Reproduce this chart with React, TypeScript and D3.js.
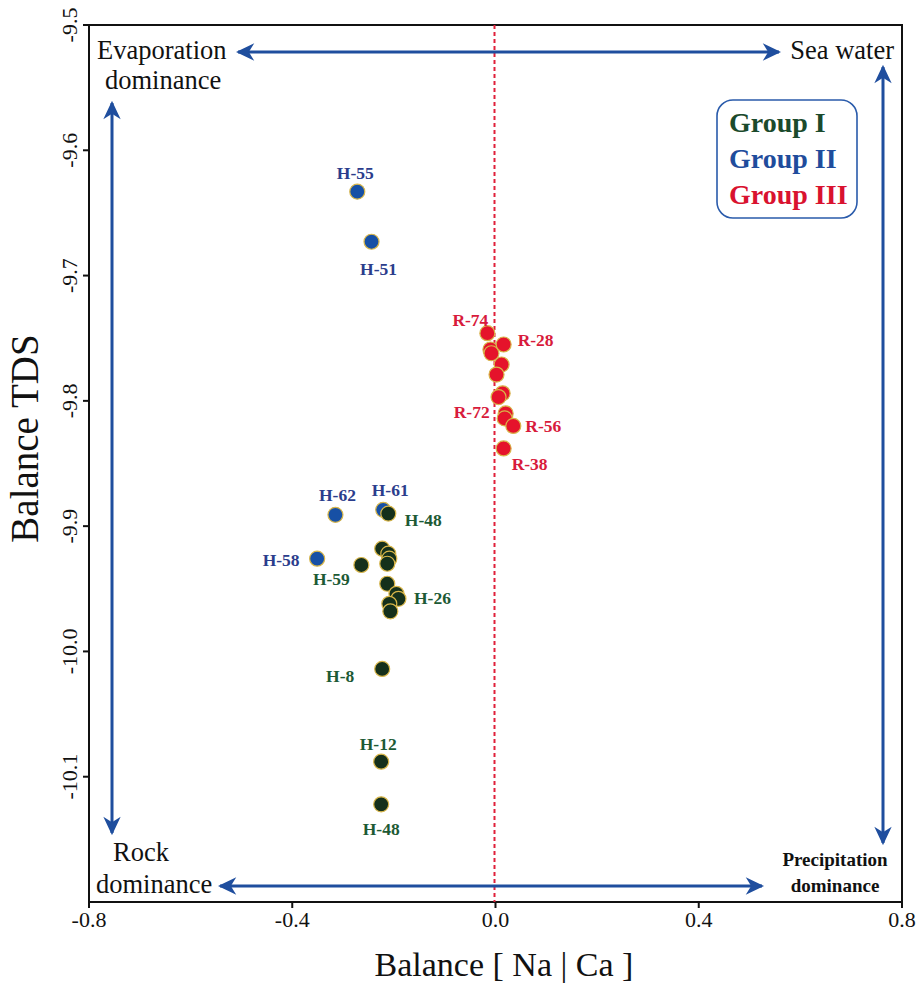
import React from "react";
import * as d3 from "d3";

// Group I (green) - Balance [Na | Ca] and Balance TDS
const groupIX = [-0.211, -0.264, -0.223, -0.211, -0.209, -0.213, -0.213, -0.195, -0.191, -0.209, -0.207, -0.223, -0.225, -0.225];
const groupIY = [-9.89, -9.931, -9.918, -9.922, -9.926, -9.93, -9.946, -9.954, -9.958, -9.962, -9.968, -10.014, -10.088, -10.122];
const groupILabels = ["H-48", "H-59", "", "", "", "", "", "", "H-26", "", "", "H-8", "H-12", "H-48"];

// Group II (blue)
const groupIIX = [-0.272, -0.244, -0.315, -0.221, -0.351];
const groupIIY = [-9.633, -9.673, -9.891, -9.887, -9.926];
const groupIILabels = ["H-55", "H-51", "H-62", "H-61", "H-58"];

// Group III (red)
const groupIIIX = [-0.016, -0.01, -0.008, 0.016, 0.012, 0.002, 0.014, 0.006, 0.02, 0.018, 0.035, 0.016];
const groupIIIY = [-9.746, -9.759, -9.762, -9.755, -9.771, -9.779, -9.794, -9.797, -9.81, -9.814, -9.82, -9.838];
const groupIIILabels = ["R-74", "", "", "R-28", "", "", "", "", "R-72", "", "R-56", "R-38"];

const xTicks = [-0.8, -0.4, 0.0, 0.4, 0.8];
const yTicks = [-9.5, -9.6, -9.7, -9.8, -9.9, -10.0, -10.1];
const legendNames = ["Group I", "Group II", "Group III"];

// label offsets (px) from its point, per label text
const labelOffset: Record<string, [number, number]> = {
  "I:H-48": [35, 6], "I:H-59": [-30, 14], "I:H-26": [34, -1], "I:H-8": [-42, 7],
  "I:H-12": [-3, -18], "I:H-48b": [0, 25],
  "II:H-55": [-2, -19], "II:H-51": [7, 27], "II:H-62": [2, -20], "II:H-61": [7, -20], "II:H-58": [-36, 1],
  "III:R-74": [-17, -13], "III:R-28": [32, -4], "III:R-72": [-34, -1], "III:R-56": [30, 0], "III:R-38": [26, 16],
};

const W = 921, H = 985;
const left = 89, right = 902, top = 25, bottom = 902;

const x = d3.scaleLinear().domain([-0.8, 0.8]).range([left, right]);
const y = d3.scaleLinear().domain([-10.2, -9.5]).range([bottom, top]);

const serif = "'Liberation Serif', 'Times New Roman', serif";
const arrowBlue = "#1f4e9e";

const groups = [
  { key: "II", xs: groupIIX, ys: groupIIY, labels: groupIILabels, fill: "#1750a5", text: "#2b3d8c" },
  { key: "I", xs: groupIX, ys: groupIY, labels: groupILabels, fill: "#15301b", text: "#1d5a35" },
  { key: "III", xs: groupIIIX, ys: groupIIIY, labels: groupIIILabels, fill: "#e5132b", text: "#d81b3c" },
];

const Arrow = ({ x1, y1, x2, y2 }: { x1: number; y1: number; x2: number; y2: number }) => (
  <line x1={x1} y1={y1} x2={x2} y2={y2} stroke={arrowBlue} strokeWidth={3}
    markerStart="url(#ahead)" markerEnd="url(#ahead)" />
);

export default function App() {
  const fmt = (v: number) => d3.format(".1f")(v).replace("\u2212", "-");
  return (
    <svg width={W} height={H} style={{ position: "absolute", left: 0, top: 0, background: "#fff" }}
      fontFamily={serif}>
      <defs>
        <marker id="ahead" viewBox="-16 -9 18 18" refX={0} refY={0} markerWidth={6.5} markerHeight={6.5}
          markerUnits="strokeWidth" orient="auto-start-reverse">
          <path d="M2,0 L-15,-8 L-10,0 L-15,8 Z" fill={arrowBlue} />
        </marker>
      </defs>

      {/* plot frame */}
      <rect x={left} y={top} width={right - left} height={bottom - top} fill="none" stroke="#111" strokeWidth={2} />

      {/* zero line */}
      <line x1={x(0) - 1} x2={x(0) - 1} y1={top} y2={bottom} stroke="#e0203a" strokeWidth={2} strokeDasharray="4,3" />

      {/* x axis */}
      {xTicks.map((t) => (
        <g key={t}>
          <line x1={x(t)} x2={x(t)} y1={bottom} y2={bottom + 6} stroke="#111" strokeWidth={2} />
          <text x={x(t)} y={bottom + 25} textAnchor="middle" fontSize={22} fill="#111">{fmt(t)}</text>
        </g>
      ))}
      <text x={504} y={976} textAnchor="middle" fontSize={34} fill="#111">Balance [ Na | Ca ]</text>

      {/* y axis */}
      {yTicks.map((t) => (
        <g key={t}>
          <line x1={left - 6} x2={left} y1={y(t)} y2={y(t)} stroke="#111" strokeWidth={2} />
          <text transform={`translate(${left - 12},${y(t)}) rotate(-90)`} textAnchor="middle" fontSize={22} fill="#111">{fmt(t)}</text>
        </g>
      ))}
      <text transform={`translate(38,${(top + bottom) / 2 - 25}) rotate(-90)`} textAnchor="middle" fontSize={39} fill="#111">Balance TDS</text>

      {/* direction arrows */}
      <Arrow x1={238} y1={52} x2={779} y2={52} />
      <Arrow x1={220} y1={886} x2={762} y2={886} />
      <Arrow x1={112} y1={103} x2={112} y2={833} />
      <Arrow x1={883} y1={67} x2={883} y2={843} />

      {/* corner notes */}
      <text x={97} y={59} fontSize={26.5} fill="#111">Evaporation</text>
      <text x={105} y={89} fontSize={26.5} fill="#111">dominance</text>
      <text x={894} y={59} fontSize={26.5} fill="#111" textAnchor="end">Sea water</text>
      <text x={141} y={861} fontSize={26.5} fill="#111" textAnchor="middle">Rock</text>
      <text x={96} y={893} fontSize={26.5} fill="#111">dominance</text>
      <text x={835} y={866} fontSize={19} fontWeight="bold" fill="#111" textAnchor="middle">Precipitation</text>
      <text x={835} y={892} fontSize={19} fontWeight="bold" fill="#111" textAnchor="middle">dominance</text>

      {/* points */}
      {groups.map((g) => (
        <g key={g.key}>
          {g.xs.map((v, i) => (
            <circle key={i} cx={x(v)} cy={y(g.ys[i])} r={7.5} fill={g.fill} stroke="#d8b64a" strokeWidth={1.2} />
          ))}
        </g>
      ))}

      {/* point labels */}
      {groups.map((g) =>
        g.labels.map((lab, i) => {
          if (!lab) return null;
          const k = g.key === "I" && lab === "H-48" && i > 0 ? `${g.key}:${lab}b` : `${g.key}:${lab}`;
          const [dx, dy] = labelOffset[k] || [0, -18];
          return (
            <text key={g.key + i} x={x(g.xs[i]) + dx} y={y(g.ys[i]) + dy} textAnchor="middle"
              dominantBaseline="central" fontSize={17.5} fontWeight="bold" fill={g.text}>{lab}</text>
          );
        })
      )}

      {/* legend */}
      <rect x={717} y={100} width={140} height={118} rx={16} fill="#fff" stroke="#2a5bab" strokeWidth={1.6} />
      {legendNames.map((n, i) => (
        <text key={n} x={729} y={132 + i * 36} fontSize={28} fontWeight="bold"
          fill={["#1b4a2c", "#1f4c9c", "#d9122f"][i]}>{n}</text>
      ))}
    </svg>
  );
}
